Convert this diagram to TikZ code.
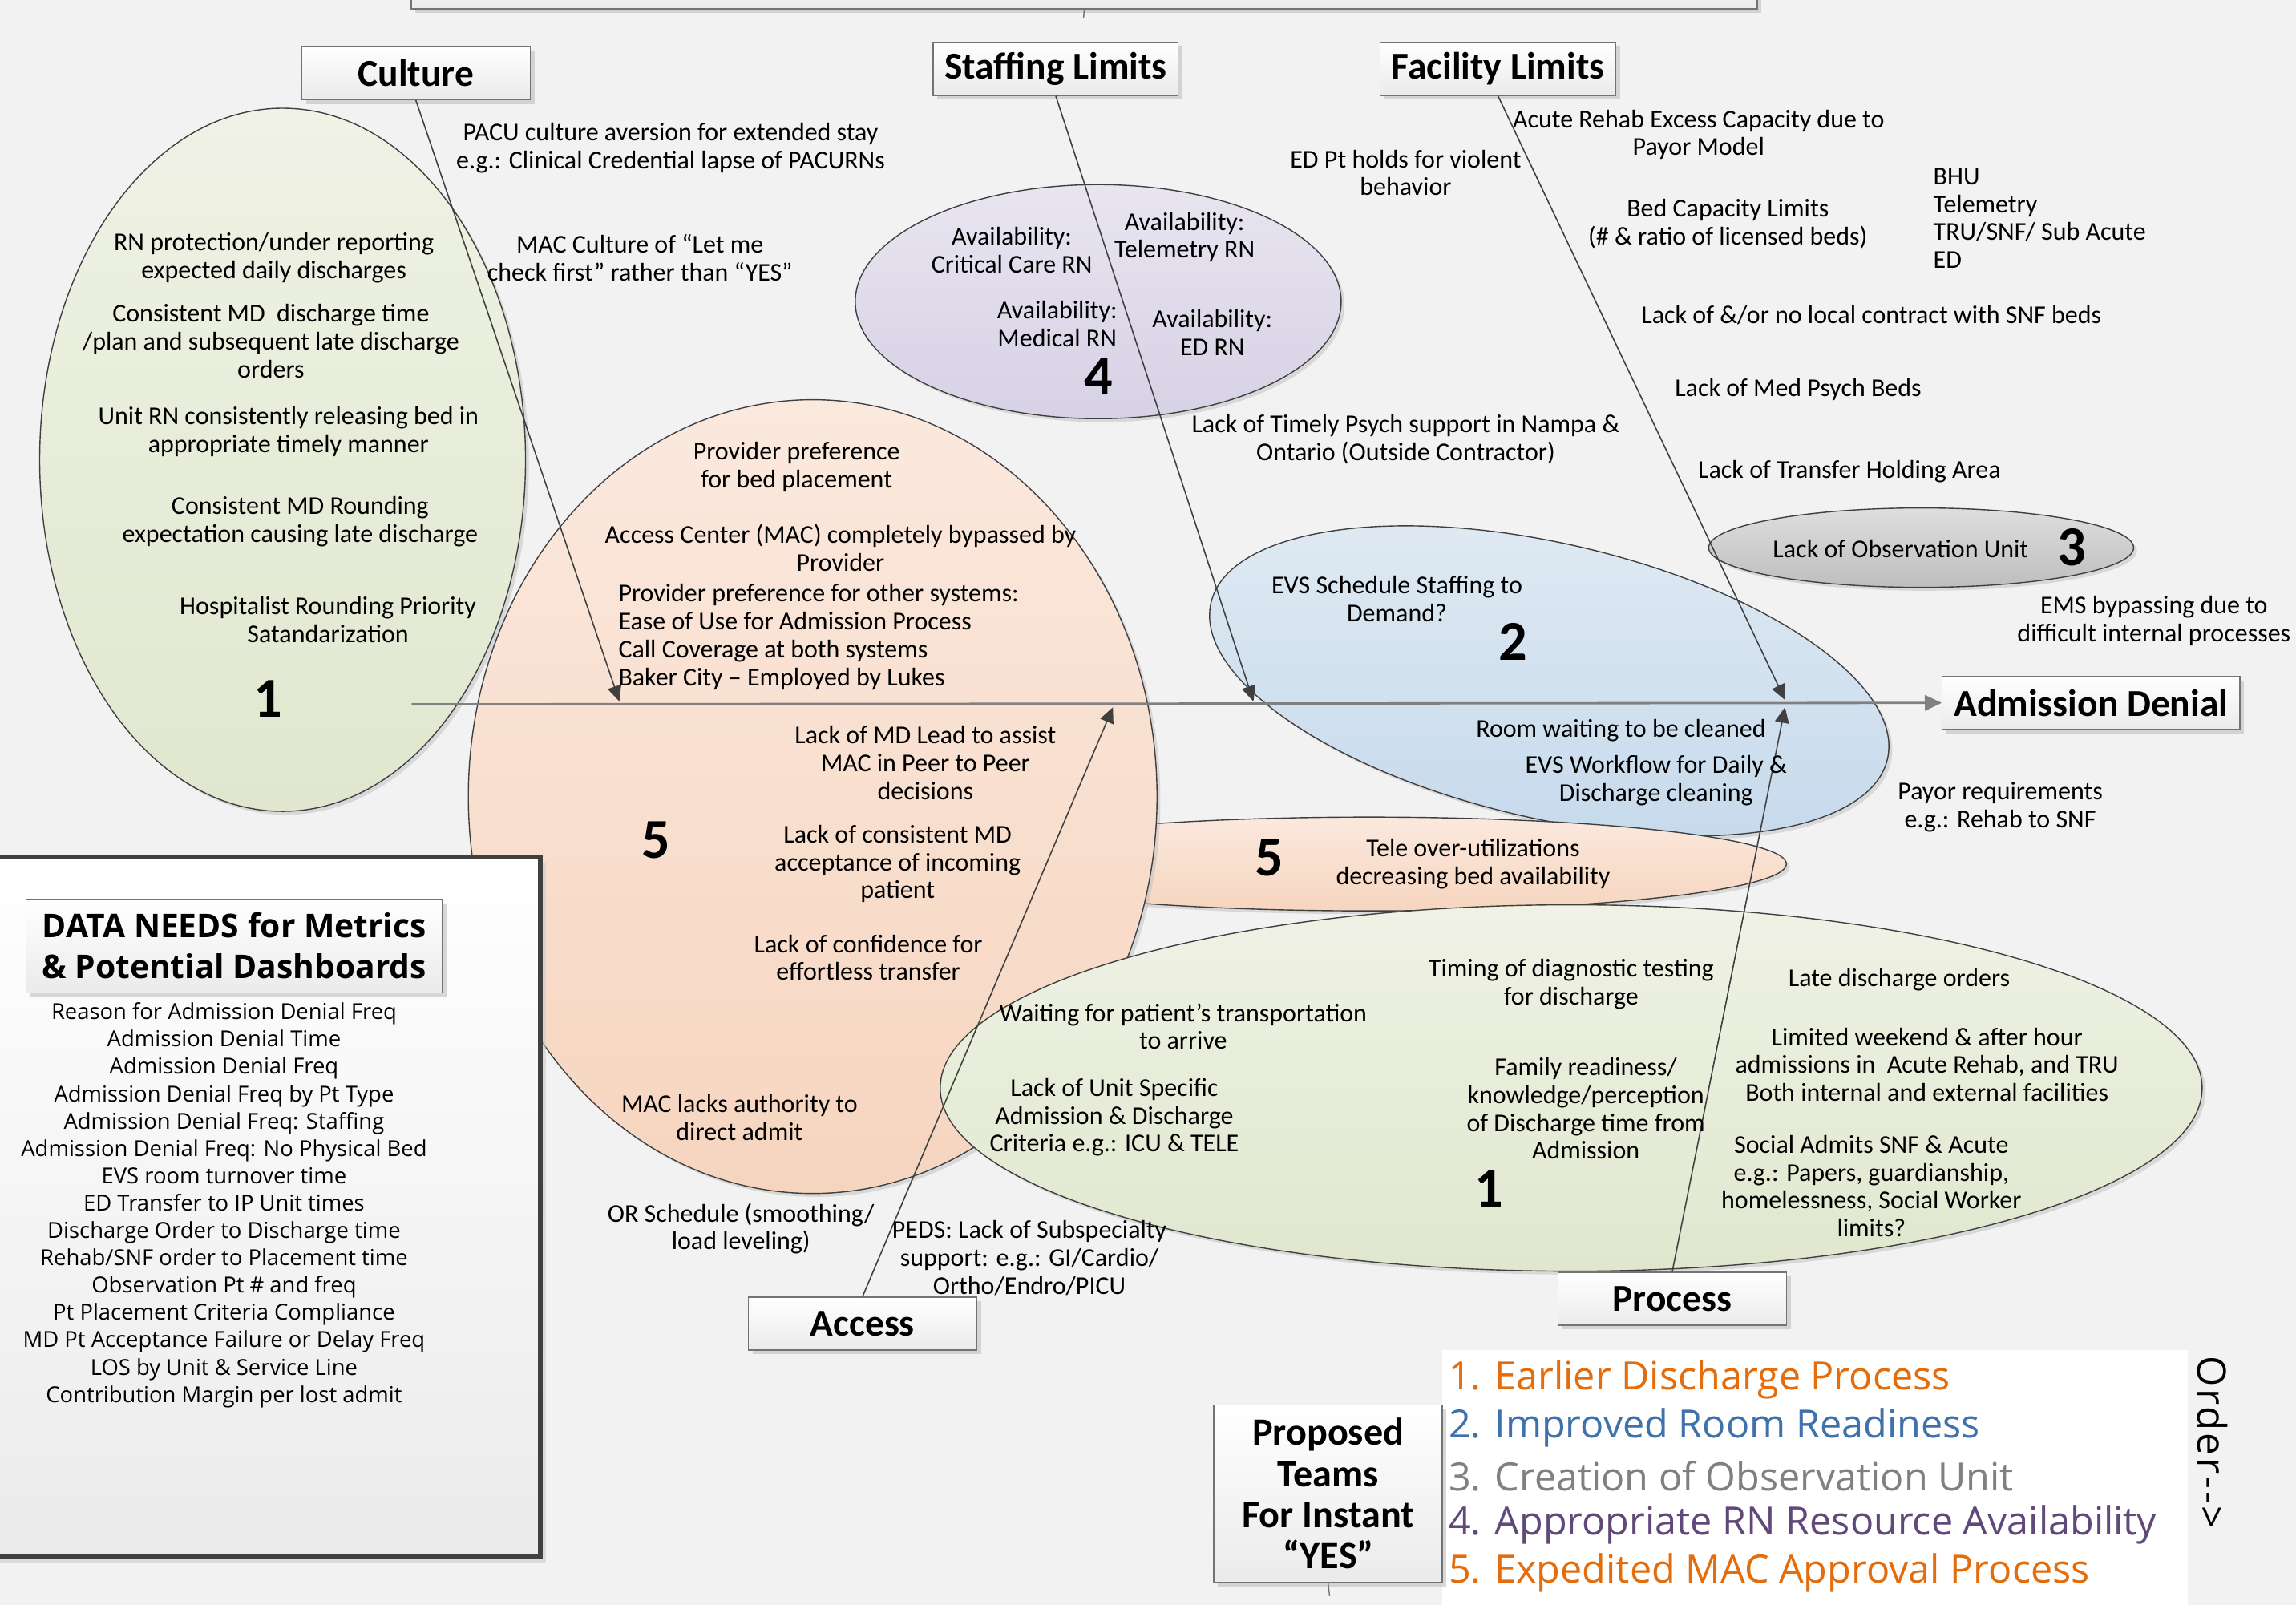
\documentclass[tikz,border=0pt]{standalone}
\usepackage{fontspec}
\setmainfont{Carlito}
\newfontfamily\segoe{Open Sans}
\newfontfamily\orderfont[LetterSpace=6]{Open Sans}
\usepackage{xcolor}
\usepackage{tikz}
\usetikzlibrary{positioning}
\usetikzlibrary{shadows}
\usetikzlibrary{shapes.geometric,arrows.meta}
\definecolor{canvas}{RGB}{242,242,242}
\definecolor{greenTop}{RGB}{239,242,229}
\definecolor{greenBot}{RGB}{224,231,206}
\definecolor{peachTop}{RGB}{251,233,222}
\definecolor{peachBot}{RGB}{246,213,191}
\definecolor{lilacTop}{RGB}{232,229,240}
\definecolor{lilacBot}{RGB}{215,209,229}
\definecolor{skyTop}{RGB}{224,234,243}
\definecolor{skyBot}{RGB}{199,218,236}
\definecolor{obsTop}{RGB}{222,222,222}
\definecolor{obsBot}{RGB}{190,190,190}
\definecolor{legOrange}{RGB}{228,108,10}
\definecolor{legBlue}{RGB}{65,113,170}
\definecolor{legGrey}{RGB}{128,128,128}
\definecolor{legPurple}{RGB}{96,73,122}
\tikzset{%
  category/.style={rectangle, draw=black!55, top color=white, bottom color=black!8, minimum width=2.85cm, minimum height=0.66cm, inner xsep=4pt, font=\fontsize{13.5}{15}\selectfont\bfseries,
    drop shadow={shadow xshift=1.5pt, shadow yshift=-1.5pt, fill=black!25, opacity=.6}},
  %
  blob/.style={ellipse, draw=black!75, line width=.4pt, inner sep=0pt,
    drop shadow={shadow xshift=1.2pt, shadow yshift=-1.2pt, fill=black!25, opacity=.5}},
  greenBlob/.style={blob, top color=greenTop, bottom color=greenBot},
  peachBlob/.style={blob, top color=peachTop, bottom color=peachBot},
  lilacBlob/.style={blob, top color=lilacTop, bottom color=lilacBot},
  skyBlob/.style={blob, top color=skyTop, bottom color=skyBot},
  obsBlob/.style={blob, top color=obsTop, bottom color=obsBot},
  % ---
  % texts
  % ---
  cause/.style={align=center, inner sep=0pt, font=\fontsize{9.1}{9.9}\selectfont},
  teamNo/.style={inner sep=0pt, font=\fontsize{20}{21}\selectfont\bfseries},
  metric/.style={align=center, inner sep=0pt, font=\segoe\fontsize{7.8}{9.7}\selectfont},
  legend/.style={anchor=west, inner sep=0pt, font=\segoe\fontsize{13.8}{15}\selectfont},
  % ---
  % connectors
  % ---
  bone/.style={draw=black!75, line width=.45pt, -{Triangle[length=5.5pt,width=5pt]}},
  spine/.style={draw=black!50, line width=.8pt, -{Triangle[length=6pt,width=5.5pt]}},
  stub/.style={draw=black!55, line width=.4pt}}

\begin{document}
\begin{tikzpicture}[x=0.18265mm, y=-0.18265mm]
    \useasboundingbox (0,0) rectangle (1568,1096);
    \fill[canvas] (0,0) rectangle (1568,1096);

    % groups
    \node[greenBlob, minimum width=6.06cm, minimum height=8.77cm] (cultureBlob) at (193,314) {};
    \node[lilacBlob, minimum width=6.06cm, minimum height=2.92cm] (rnBlob) at (750,206) {};
    \node[skyBlob, minimum width=8.66cm, minimum height=3.43cm, rotate=-13] (roomBlob) at (1058,465) {};
    \node[obsBlob, minimum width=5.30cm, minimum height=0.99cm] (obsBlob) at (1312,374) {};
    \node[peachBlob, minimum width=10.41cm, minimum height=1.17cm] (teleBlob) at (935,590) {};
    \node[peachBlob, minimum width=8.59cm, minimum height=9.90cm] (macBlob) at (555,544) {};
    \node[greenBlob, minimum width=15.74cm, minimum height=4.57cm] (dischargeBlob) at (1073,743) {};

    % top box and panels
    \node[category, minimum width=16.79cm, minimum height=0.77cm] (topBox) at (740.5,-15) {};
    \coordinate (topTick) at (740,12);
    \draw[stub] (topBox.south) -- (topTick);

    \draw[draw=black!75, line width=1.6pt, top color=white, bottom color=black!8,
      drop shadow={shadow xshift=2pt, shadow yshift=-2pt, fill=black!20, opacity=.6}] (-5,585) rectangle (369,1063);
    \fill[white] (985,922) rectangle (1494,1100);

    % categories
    \node[category] (culture) at (284,50) {Culture};
    \node[category] (staffing) at (721,47) {Staffing Limits};
    \node[category] (facility) at (1023,47) {Facility Limits};
    \node[category] (access) at (589,904) {Access};
    \node[category] (process) at (1142,887) {Process};
    \node[category, minimum width=3.71cm] (denial) at (1428,480) {Admission Denial};

    % spine and bones
    \coordinate (spineStart) at (281,481);
    \coordinate (cultureEnd) at (423,479);
    \coordinate (staffingEnd) at (856,479);
    \coordinate (facilityEnd) at (1219,478);
    \coordinate (accessEnd) at (760,483);
    \coordinate (processEnd) at (1219,483);
    \draw[spine] (spineStart) -- (denial.west);
    \draw[bone] (culture.south) -- (cultureEnd);
    \draw[bone] (staffing.south) -- (staffingEnd);
    \draw[bone] (facility.south) -- (facilityEnd);
    \draw[bone] (access.north) -- (accessEnd);
    \draw[bone] (process.north) -- (processEnd);

    % culture
    \node[cause] (pacu) at (458,101) {PACU culture aversion for extended stay\\e.g.: Clinical Credential lapse of PACURNs};
    \node[cause] (macCulture) at (437,176) {MAC Culture of “Let me\\check first” rather than “YES”};
    \node[cause] (rnProtect) at (187,176) {RN protection/under reporting\\expected daily discharges};
    \node[cause] (mdDischarge) at (185,233) {Consistent MD\ \ discharge time\\/plan and subsequent late discharge\\orders};
    \node[cause] (unitRelease) at (197,295) {Unit RN consistently releasing bed in\\appropriate timely manner};
    \node[cause] (mdRounding) at (205,356) {Consistent MD Rounding\\expectation causing late discharge};
    \node[cause] (hospitalist) at (224,423) {Hospitalist Rounding Priority\\Satandarization};
    \node[teamNo] (cultureNo) at (183,477) {1};

    % staffing
    \node[cause] (critCare) at (691,171) {Availability:\\Critical Care RN};
    \node[cause] (teleRN) at (809,162) {Availability:\\Telemetry RN};
    \node[cause] (medRN) at (722,221) {Availability:\\Medical RN};
    \node[cause] (edRN) at (828,227) {Availability:\\ED RN};
    \node[teamNo] (rnNo) at (750,257) {4};
    \node[cause] (timelyPsych) at (960,300) {Lack of Timely Psych support in Nampa \&\\Ontario (Outside Contractor)};
    \node[cause] (edHolds) at (960,118) {ED Pt holds for violent\\behavior};

    % facility
    \node[cause] (acuteRehab) at (1160,92) {Acute Rehab Excess Capacity due to\\Payor Model};
    \node[cause] (bedCapacity) at (1180,153) {Bed Capacity Limits\\(\# \& ratio of licensed beds)};
    \node[cause, align=left, anchor=west] (unitList) at (1320,149) {BHU\\Telemetry\\TRU/SNF/ Sub Acute\\ED};
    \node[cause] (snfContract) at (1278,215) {Lack of \&/or no local contract with SNF beds};
    \node[cause] (medPsych) at (1228,266) {Lack of Med Psych Beds};
    \node[cause] (holdingArea) at (1263,322) {Lack of Transfer Holding Area};
    \node[cause] (obsUnit) at (1298,375) {Lack of Observation Unit};
    \node[teamNo] (obsNo) at (1415,374) {3};
    \node[cause] (emsBypass) at (1471,424) {EMS bypassing due to\\difficult internal processes};
    \node[cause] (evsSchedule) at (954,409) {EVS Schedule Staffing to\\Demand?};
    \node[teamNo] (roomNo) at (1033,438) {2};
    \node[cause] (roomWaiting) at (1107,499) {Room waiting to be cleaned};
    \node[cause] (evsWorkflow) at (1131,533) {EVS Workflow for Daily \&\\Discharge cleaning};
    \node[cause] (payor) at (1366,551) {Payor requirements\\e.g.: Rehab to SNF};

    % access
    \node[cause] (bedPlacement) at (544,319) {Provider preference\\for bed placement};
    \node[cause] (macBypass) at (574,374) {Access Center (MAC) completely bypassed by\\Provider};
    \node[cause, align=left, anchor=west] (otherSystems) at (422,435) {Provider preference for other systems:\\Ease of Use for Admission Process\\Call Coverage at both systems\\Baker City – Employed by Lukes};
    \node[cause] (mdLead) at (632,521) {Lack of MD Lead to assist\\MAC in Peer to Peer\\decisions};
    \node[teamNo] (macNo) at (448,574) {5};
    \node[cause] (mdAccept) at (613,590) {Lack of consistent MD\\acceptance of incoming\\patient};
    \node[cause] (confidence) at (593,654) {Lack of confidence for\\effortless transfer};
    \node[cause] (macAuthority) at (505,763) {MAC lacks authority to\\direct admit};
    \node[cause] (orSchedule) at (506,839) {OR Schedule (smoothing/\\load leveling)};
    \node[cause] (peds) at (703,859) {PEDS: Lack of Subspecialty\\support: e.g.: GI/Cardio/\\Ortho/Endro/PICU};
    \node[teamNo] (teleNo) at (867,586) {5};
    \node[cause] (teleOver) at (1006,590) {Tele over-utilizations\\decreasing bed availability};

    % process
    \node[cause] (transport) at (808,701) {Waiting for patient’s transportation\\to arrive};
    \node[cause] (unitCriteria) at (761,763) {Lack of Unit Specific\\Admission \& Discharge\\Criteria e.g.: ICU \& TELE};
    \node[cause] (diagTiming) at (1073,672) {Timing of diagnostic testing\\for discharge};
    \node[cause] (familyReady) at (1083,757) {Family readiness/\\knowledge/perception\\of Discharge time from\\Admission};
    \node[teamNo] (dischargeNo) at (1017,812) {1};
    \node[cause] (lateOrders) at (1297,669) {Late discharge orders};
    \node[cause] (weekend) at (1316,727) {Limited weekend \& after hour\\admissions in\ \ Acute Rehab, and TRU\\Both internal and external facilities};
    \node[cause] (socialAdmits) at (1278,810) {Social Admits SNF \& Acute\\e.g.: Papers, guardianship,\\homelessness, Social Worker\\limits?};

    % data needs
    \node[category, minimum width=5.19cm, minimum height=1.17cm, align=center, font=\segoe\fontsize{11.6}{14.5}\selectfont\bfseries] (dataNeeds) at (160,646) {DATA NEEDS for Metrics\\\& Potential Dashboards};
    \node[metric] (metricList) at (153,823) {Reason for Admission Denial Freq\\Admission Denial Time\\Admission Denial Freq\\Admission Denial Freq by Pt Type\\Admission Denial Freq: Staffing\\Admission Denial Freq: No Physical Bed\\EVS room turnover time\\ED Transfer to IP Unit times\\Discharge Order to Discharge time\\Rehab/SNF order to Placement time\\Observation Pt \# and freq\\Pt Placement Criteria Compliance\\MD Pt Acceptance Failure or Delay Freq\\LOS by Unit \& Service Line\\Contribution Margin per lost admit};

    % proposed teams
    \node[category, minimum height=2.21cm, align=center, font=\fontsize{13.7}{14.6}\selectfont\bfseries] (teams) at (907,1020) {Proposed\\Teams\\For Instant\\“YES”};
    \coordinate (teamsTick) at (908,1090);
    \draw[stub] (teams.south) -- (teamsTick);

    \node[legend, text=legOrange] (leg1) at (989,942) {1. Earlier Discharge Process};
    \node[legend, text=legBlue] (leg2) at (989,975) {2. Improved Room Readiness};
    \node[legend, text=legGrey] (leg3) at (989,1008) {3. Creation of Observation Unit};
    \node[legend, text=legPurple] (leg4) at (989,1041) {4. Appropriate RN Resource Availability};
    \node[legend, text=legOrange] (leg5) at (989,1074) {5. Expedited MAC Approval Process};
    \node[rotate=-90, inner sep=0pt, font=\orderfont\fontsize{14}{16}\selectfont] (order) at (1511,985) {Order-{}-{}>};
  \end{tikzpicture}
\end{document}
